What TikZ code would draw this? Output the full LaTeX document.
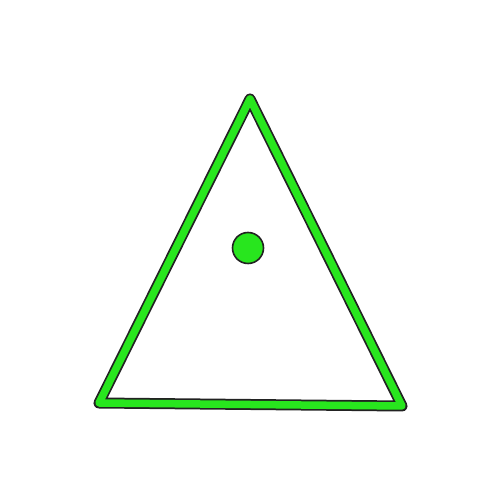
\documentclass[tikz,border=0pt]{standalone}
\definecolor{bright}{RGB}{40,230,30}
\definecolor{edge}{RGB}{34,34,34}
\tikzset{
  outerband/.style={draw=edge, line width=11pt, line join=round, line cap=round},
  innerband/.style={draw=bright, line width=7.5pt, line join=round, line cap=round},
  dot/.style={fill=bright, draw=edge, line width=1.6pt}
}
\begin{document}
\begin{tikzpicture}[x=1pt,y=1pt]
\useasboundingbox (0,0) rectangle (500,500);
\coordinate (apex) at (250,401);
\coordinate (bl) at (99,97);
\coordinate (br) at (402,94);
\coordinate (ctr) at (248,252);
\draw[outerband] (apex) -- (bl) -- (br) -- cycle;
\draw[innerband] (apex) -- (bl) -- (br) -- cycle;
\draw[dot] (ctr) circle (15.5);
\end{tikzpicture}
\end{document}
